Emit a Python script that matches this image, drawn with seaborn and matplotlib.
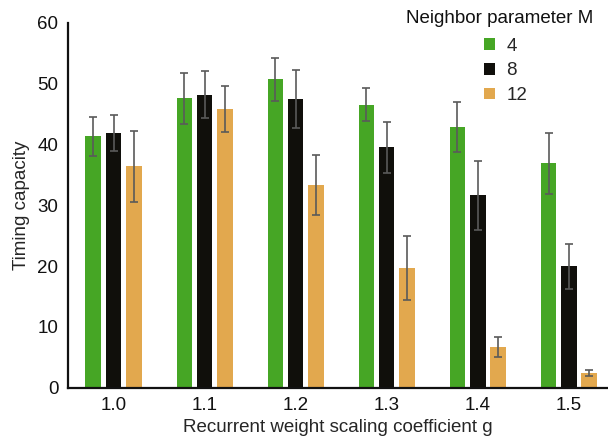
import numpy as np
import pandas as pd
import matplotlib
matplotlib.use("Agg")
import matplotlib.pyplot as plt
import seaborn as sns

g_values = ["1.0", "1.1", "1.2", "1.3", "1.4", "1.5"]
m_labels = ["4", "8", "12"]
cap_m4 = [41.3, 47.6, 50.7, 46.5, 42.9, 36.9]
cap_m8 = [41.9, 48.2, 47.5, 39.5, 31.6, 20.0]
cap_m12 = [36.4, 45.8, 33.3, 19.7, 6.7, 2.4]
err_m4 = [3.2, 4.2, 3.5, 2.7, 4.1, 5.0]
err_m8 = [3.0, 3.8, 4.8, 4.2, 5.7, 3.7]
err_m12 = [5.8, 3.8, 4.9, 5.3, 1.6, 0.5]

colors = ["#46A625", "#100F0B", "#E2A84E"]

rows = []
for m, caps, errs in zip(m_labels, [cap_m4, cap_m8, cap_m12], [err_m4, err_m8, err_m12]):
    for g, c, e in zip(g_values, caps, errs):
        rows.append({"g": g, "M": m, "cap": c, "err": e})
df = pd.DataFrame(rows)

sns.set_style("white")
plt.rcParams["font.family"] = ["Liberation Sans", "DejaVu Sans"]
FS = 13.5

fig = plt.figure(figsize=(6.08, 4.37), dpi=100)
ax = fig.add_axes([0.1118, 0.1128, 0.8882, 0.8352])

sns.barplot(data=df, x="g", y="cap", hue="M", order=g_values, hue_order=m_labels,
            palette=colors, width=0.67, gap=0.24, errorbar=None, ax=ax,
            edgecolor="none", saturation=1)

# error bars at bar centers
for container, m in zip(ax.containers, m_labels):
    sub = df[df["M"] == m].set_index("g").loc[g_values]
    xs = [p.get_x() + p.get_width() / 2 for p in container.patches]
    ax.errorbar(xs, sub["cap"].values, yerr=sub["err"].values, fmt="none",
                ecolor="#5a5a5a", elinewidth=1.2, capsize=3.2, capthick=1.2, zorder=5)

ax.set_ylim(0, 60)
ax.set_xlim(-0.5, 5.43)
ax.set_yticks([0, 10, 20, 30, 40, 50, 60])
ax.tick_params(axis="both", length=0, labelsize=FS, colors="#111111", pad=7)
ax.set_xlabel("Recurrent weight scaling coefficient g", fontsize=FS, labelpad=3)
ax.set_ylabel("Timing capacity", fontsize=FS, labelpad=5)
for s in ["top", "right"]:
    ax.spines[s].set_visible(False)
for s in ["left", "bottom"]:
    ax.spines[s].set_color("#111111")
    ax.spines[s].set_linewidth(1.6)

# legend title as text, entries below
fig.text(593 / 608, 1 - 10 / 437, "Neighbor parameter M", ha="right", va="top",
         fontsize=FS, color="#111111")
leg = ax.legend(loc="upper left", bbox_to_anchor=(480 / 608, 1 - 34 / 437),
                bbox_transform=fig.transFigure,
                frameon=False, fontsize=FS, handlelength=0.6,
                handleheight=0.6, handletextpad=0.6, labelspacing=0.41, borderpad=0.2,
                borderaxespad=0.0)

fig.savefig("out.png", dpi=100)
